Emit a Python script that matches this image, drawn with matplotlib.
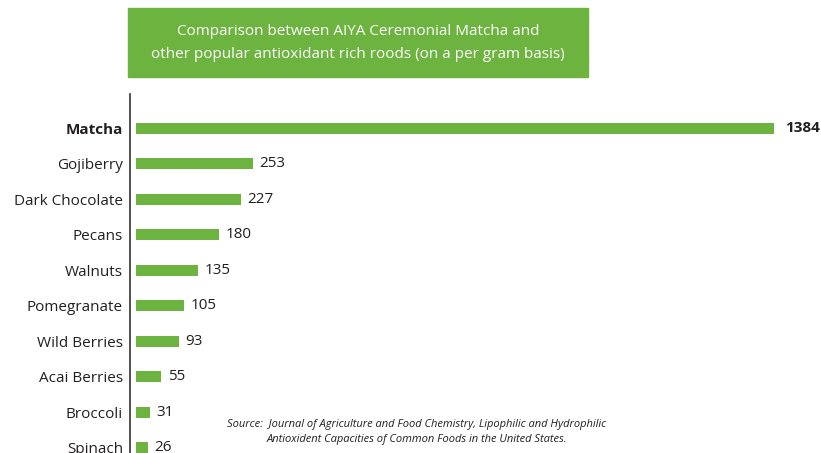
import matplotlib
matplotlib.use('Agg')
import matplotlib.pyplot as plt
from matplotlib.patches import Rectangle

plt.rcParams['font.family'] = ['Open Sans', 'DejaVu Sans']

# Data
foods = ['Matcha', 'Gojiberry', 'Dark Chocolate', 'Pecans', 'Walnuts',
         'Pomegranate', 'Wild Berries', 'Acai Berries', 'Broccoli', 'Spinach']
values = [1384, 253, 227, 180, 135, 105, 93, 55, 31, 26]

green = '#6db33f'
text_col = '#231f20'

fig = plt.figure(figsize=(8.21, 4.53), dpi=100)
ax = fig.add_axes([130 / 821, 0, 691 / 821, 1 - 94 / 453])

y = list(range(len(foods)))
ax.barh(y, values, height=0.31, color=green)
ax.set_xlim(-13, 1486)
ax.set_ylim(9.15, -0.96)

ax.set_yticks(y)
ax.set_yticklabels(foods, fontsize=11, color=text_col)
ax.get_yticklabels()[0].set_fontweight('bold')
ax.tick_params(axis='y', length=0, pad=5)
ax.set_xticks([])

for s in ['top', 'right', 'bottom']:
    ax.spines[s].set_visible(False)
ax.spines['left'].set_color('#333333')
ax.spines['left'].set_linewidth(1.2)

for i, v in enumerate(values):
    if i == 0:
        ax.text(v + 24, i, str(v), va='center', ha='left', fontsize=11,
                fontweight='bold', color=text_col)
    else:
        ax.text(v + 14, i, str(v), va='center', ha='left', fontsize=11,
                color=text_col)

# Title box
fig.patches.append(Rectangle((128 / 821, 1 - 77 / 453), 460 / 821, 69 / 453,
                             transform=fig.transFigure, color=green, zorder=0))
fig.text(358 / 821, 1 - 43 / 453,
         'Comparison between AIYA Ceremonial Matcha and\n'
         'other popular antioxidant rich roods (on a per gram basis)',
         ha='center', va='center', color='white', fontsize=11, linespacing=1.75)

# Source
fig.text(417 / 821, 1 - 432 / 453,
         'Source:  Journal of Agriculture and Food Chemistry, Lipophilic and Hydrophilic\n'
         'Antioxident Capacities of Common Foods in the United States.',
         ha='center', va='center', color=text_col, fontsize=8, style='italic',
         linespacing=1.5)

fig.savefig('out.png', dpi=100)
